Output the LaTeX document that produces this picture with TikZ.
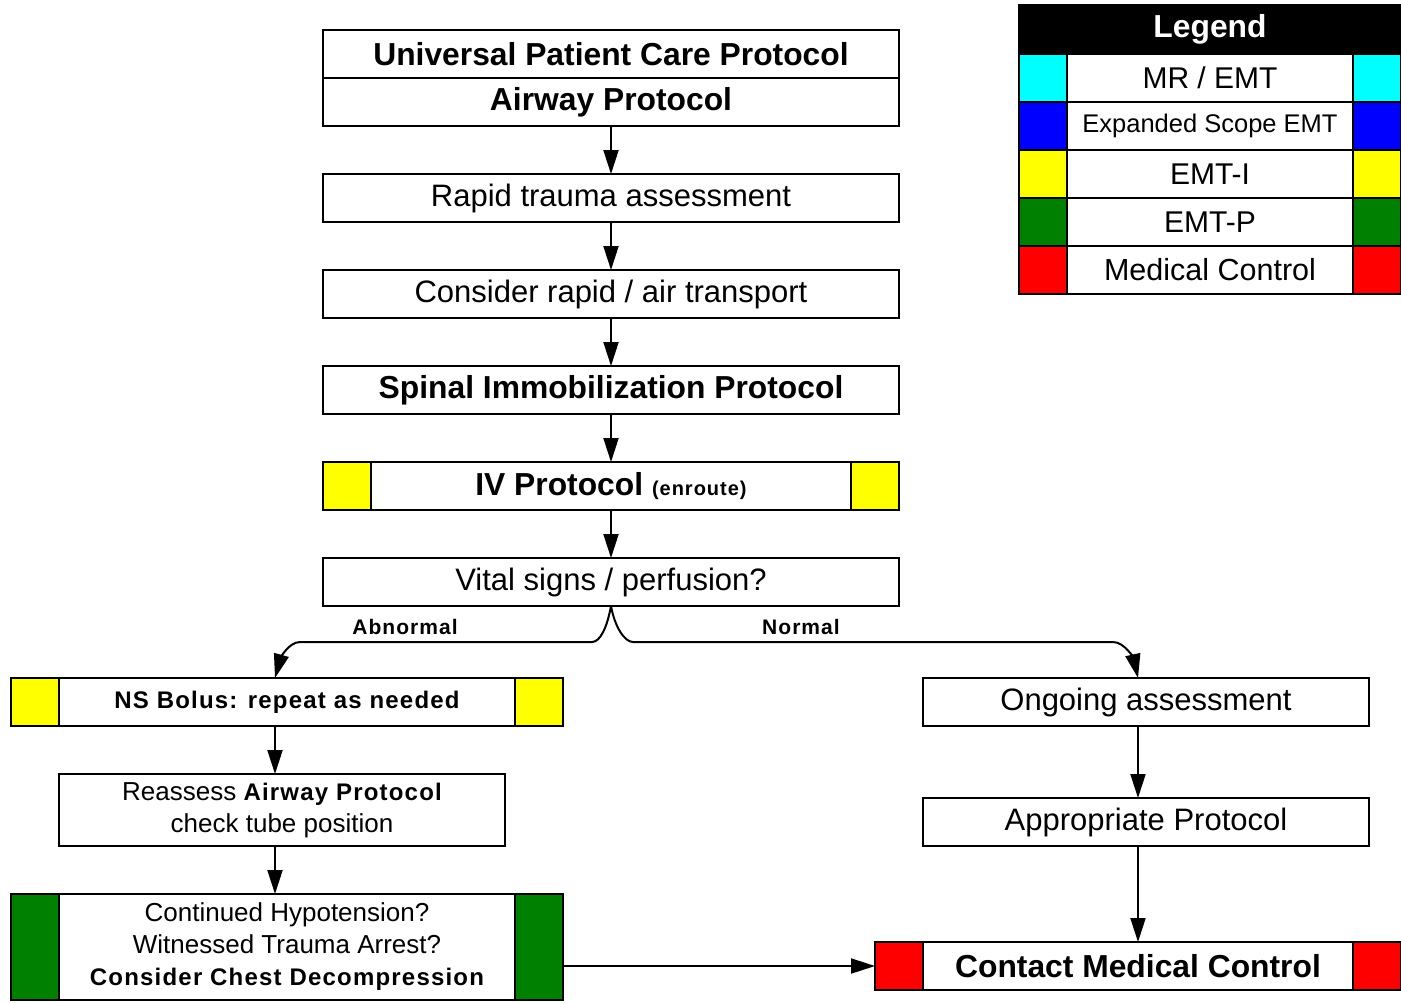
\documentclass[tikz,border=0pt]{standalone}
\usepackage{fontspec}
\setmainfont{Liberation Sans}
\newfontfamily\tracked[LetterSpace=5]{Liberation Sans}
\usetikzlibrary{arrows.meta, positioning, calc}
\definecolor{emtp}{RGB}{0,128,0}
\definecolor{mrcyan}{RGB}{0,255,255}
\definecolor{esblue}{RGB}{0,0,255}
\definecolor{ivyellow}{RGB}{255,255,0}
\definecolor{mcred}{RGB}{255,0,0}
\tikzset{%
	box/.style={draw, line width=2pt, inner sep=0pt, outer sep=0pt, minimum height=48pt,%
		align=center, fill=white, font=\fontsize{31}{37}\selectfont},
	boldbox/.style={font=\fontsize{31.8}{37}\selectfont\bfseries},
	mainbox/.style={box, minimum width=576pt},
	sidebox/.style={box, minimum width=446pt},
	band/.style={draw, line width=2pt, minimum size=48pt, inner sep=0pt, outer sep=0pt},
	arr/.style={-{Triangle[length=24pt, width=15pt]}, line width=2pt},
	smallbold/.style={font=\fontsize{24}{32}\selectfont\tracked\bfseries},
	branch/.style={font=\fontsize{21}{25}\selectfont\tracked\bfseries}
}

\begin{document}
\begin{tikzpicture}[x=1pt, y=-1pt, node distance=48pt]
	\path[use as bounding box, fill=white] (0,0) rectangle (1401,1002);

	% main column
	\node[mainbox, boldbox] (upcp) at (611,54) {Universal Patient Care Protocol};
	\node[mainbox, boldbox, below=0pt of upcp] (airway) {Airway Protocol};
	\node[mainbox, below=of airway] (rapid) {Rapid trauma assessment};
	\node[mainbox, below=of rapid] (transport) {Consider rapid / air transport};
	\node[mainbox, boldbox, below=of transport] (spinal) {Spinal Immobilization Protocol};
	\node[mainbox, boldbox, below=of spinal] (iv) {IV Protocol {\fontsize{20}{24}\selectfont\tracked\bfseries (enroute)}};
	\node[band, fill=ivyellow, anchor=west] (ivl) at (iv.west) {};
	\node[band, fill=ivyellow, anchor=east] (ivr) at (iv.east) {};
	\node[mainbox, below=of iv] (vitals) {Vital signs / perfusion?};

	\foreach \a/\b in {airway/rapid, rapid/transport, transport/spinal, spinal/iv, iv/vitals}
		\draw[arr] (\a) -- (\b);

	% abnormal branch
	\node[box, minimum width=552pt, smallbold] (bolus) at (287,702) {NS Bolus: repeat as needed};
	\node[band, fill=ivyellow, anchor=west] (bolusl) at (bolus.west) {};
	\node[band, fill=ivyellow, anchor=east] (bolusr) at (bolus.east) {};
	\node[sidebox, minimum height=72pt, font=\fontsize{26}{32}\selectfont] (reassess) at (282,810)
		{Reassess {\fontsize{24}{32}\selectfont\tracked\bfseries Airway Protocol}\\check tube position};
	\node[box, minimum width=552pt, minimum height=106pt, font=\fontsize{26}{32}\selectfont] (continued) at (287,947)
		{Continued Hypotension?\\Witnessed Trauma Arrest?\\{\fontsize{24}{32}\selectfont\tracked\bfseries Consider Chest Decompression}};
	\node[band, minimum height=106pt, fill=emtp, anchor=west] (contl) at (continued.west) {};
	\node[band, minimum height=106pt, fill=emtp, anchor=east] (contr) at (continued.east) {};

	% normal branch
	\node[sidebox] (ongoing) at (1146,702) {Ongoing assessment};
	\node[sidebox] (appropriate) at (1146,822) {Appropriate Protocol};
	\node[box, minimum width=526pt, boldbox] (contact) at (1138,966) {Contact Medical Control};
	\node[band, fill=mcred, anchor=west] (contactl) at (contact.west) {};
	\node[band, fill=mcred, anchor=east] (contactr) at (contact.east) {};

	% split
	\coordinate (split) at (vitals.south);
	\coordinate (abn) at ([xshift=-12pt]bolus.north);
	\coordinate (nrm) at (ongoing.north -| contact.north);
	\draw[arr] (split) .. controls +(-4,22) and +(8,0) .. ($(split)+(-19,36)$)
		-- ($(abn)+(25,-36)$) .. controls +(-12,0) and +(5,-18) .. (abn);
	\draw[arr] (split) .. controls +(4,22) and +(-8,0) .. ($(split)+(22,36)$)
		-- ($(nrm)+(-25,-36)$) .. controls +(12,0) and +(-4,-18) .. (nrm);
	\node[branch] (abnlabel) at (405,627) {Abnormal};
	\node[branch] (nrmlabel) at (801,627) {Normal};

	\draw[arr] ([xshift=-12pt]bolus.south) -- ([xshift=-12pt]bolus.south |- reassess.north);
	\draw[arr] ([xshift=-7pt]reassess.south) -- ([xshift=-7pt]reassess.south |- continued.north);
	\draw[arr] (continued.east |- contact.west) -- (contact.west);
	\draw[arr] (ongoing.south -| contact.north) -- (appropriate.north -| contact.north);
	\draw[arr] (appropriate.south -| contact.north) -- (contact.north);

	% legend
	\node[box, minimum width=382pt, minimum height=49pt, fill=black, text=white,%
		font=\fontsize{31.8}{37}\selectfont\bfseries] (legend) at (1210,29.5) {Legend};
	\foreach \col/\sz/\txt [count=\i] in {mrcyan/30/{MR / EMT}, esblue/25.5/{Expanded Scope EMT},%
			ivyellow/30/{EMT-I}, emtp/30/{EMT-P}, mcred/30.5/{Medical Control}} {
		\node[box, minimum width=382pt, font=\fontsize{\sz}{\sz}\selectfont] (leg\i) at (1210,30+48*\i) {\txt};
		\node[band, fill=\col, anchor=west] (legl\i) at (leg\i.west) {};
		\node[band, fill=\col, anchor=east] (legr\i) at (leg\i.east) {};
	}
\end{tikzpicture}
\end{document}
